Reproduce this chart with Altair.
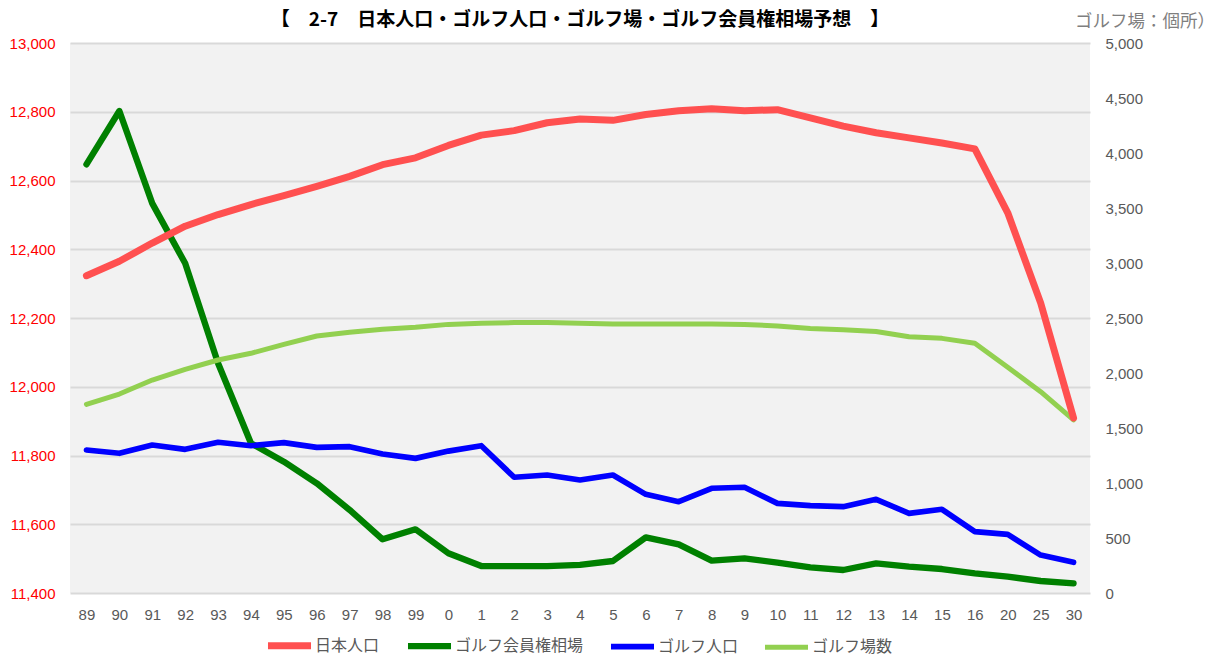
import altair as alt
import pandas as pd

categories = ['89', '90', '91', '92', '93', '94', '95', '96', '97', '98', '99',
              '0', '1', '2', '3', '4', '5', '6', '7', '8', '9', '10', '11', '12',
              '13', '14', '15', '16', '20', '25', '30']

population = [12323, 12365, 12418, 12467, 12501, 12530, 12556, 12583, 12612, 12646, 12666,
              12702, 12732, 12745, 12768, 12779, 12775, 12792, 12803, 12809, 12803, 12806,
              12782, 12758, 12739, 12724, 12709, 12692, 12506, 12244, 11909]

membership = [3897, 4382, 3542, 2997, 2088, 1361, 1194, 997, 755, 488, 579,
              361, 245, 245, 245, 255, 291, 506, 442, 294, 315, 276,
              233, 209, 270, 239, 218, 179, 148, 109, 88]

golfers = [1300, 1270, 1345, 1306, 1370, 1339, 1367, 1324, 1330, 1264, 1224,
           1290, 1339, 1052, 1073, 1027, 1073, 897, 830, 952, 961, 815,
           794, 785, 852, 724, 761, 558, 533, 345, 279]

courses = [1715, 1809, 1936, 2033, 2118, 2179, 2261, 2336, 2370, 2397, 2415,
           2442, 2452, 2458, 2458, 2452, 2445, 2445, 2445, 2445, 2442, 2427,
           2405, 2394, 2378, 2330, 2315, 2270, 2052, 1830, 1573]

series_names = ['日本人口', 'ゴルフ会員権相場', 'ゴルフ人口', 'ゴルフ場数']
series_colors = ['#FF5050', '#008000', '#0000FF', '#92D050']
series_widths = [7, 5, 6.5, 4]

title_text = '【　2-7　日本人口・ゴルフ人口・ゴルフ場・ゴルフ会員権相場予想　】'
unit_text = 'ゴルフ場：個所）'

left_ticks = [11400, 11600, 11800, 12000, 12200, 12400, 12600, 12800, 13000]
right_ticks = [0, 500, 1000, 1500, 2000, 2500, 3000, 3500, 4000, 4500, 5000]

rows = []
for name, vals in zip(series_names, [population, membership, golfers, courses]):
    for i, (c, v) in enumerate(zip(categories, vals)):
        rows.append({'cat': c, 'series': name, 'sw': name, 'value': v, 'idx': i})
df = pd.DataFrame(rows)

color = alt.Color('series:N',
                  scale=alt.Scale(domain=series_names, range=series_colors),
                  legend=alt.Legend(title=None, orient='none', direction='horizontal',
                                    columns=4, legendX=194, legendY=577,
                                    symbolType='stroke', symbolSize=1850,
                                    symbolStrokeWidth=7, labelOffset=0,
                                    columnPadding=15, padding=0,
                                    labelFont='Noto Sans CJK JP', labelFontSize=16,
                                    labelColor='#595959'))

xenc = alt.X('cat:N', sort=categories,
             scale=alt.Scale(type='point', padding=0.5),
             axis=alt.Axis(title=None, labelAngle=0, domain=False, ticks=False,
                           tickSize=0, grid=False, labelPadding=14,
                           labelFont='Liberation Sans', labelFontSize=15,
                           labelColor='#595959'))

base = alt.Chart(df)

right_layer = base.transform_filter(
    alt.FieldOneOfPredicate(field='series', oneOf=series_names[1:])
).mark_line(strokeCap='round', strokeJoin='round').encode(
    x=xenc,
    y=alt.Y('value:Q', scale=alt.Scale(domain=[0, 5000], nice=False, zero=True),
            axis=alt.Axis(title=None, orient='right', values=right_ticks, format=',.0f',
                          domain=False, ticks=False, tickSize=0, grid=False,
                          labelPadding=15, labelFont='Liberation Sans',
                          labelFontSize=15, labelColor='#595959')),
    color=color,
    strokeWidth=alt.StrokeWidth('sw:N',
                                scale=alt.Scale(domain=series_names, range=series_widths),
                                legend=None),
    order='idx:Q',
)

left_layer = base.transform_filter(
    alt.FieldEqualPredicate(field='series', equal=series_names[0])
).mark_line(strokeCap='round', strokeJoin='round', strokeWidth=7).encode(
    x=xenc,
    y=alt.Y('value:Q', scale=alt.Scale(domain=[11400, 13000], nice=False, zero=False),
            axis=alt.Axis(title=None, orient='left', values=left_ticks, format=',.0f',
                          domain=False, ticks=False, tickSize=0, grid=True,
                          gridColor='#D9D9D9', gridWidth=2,
                          labelPadding=15, labelFont='Liberation Sans',
                          labelFontSize=15, labelColor='#FF0000')),
    color=color,
    order='idx:Q',
)

title_layer = alt.Chart(pd.DataFrame({'t': [title_text]})).mark_text(
    align='center', baseline='middle', font='Noto Sans CJK JP',
    fontSize=19, fontWeight='bold', color='#000000'
).encode(text='t:N', x=alt.value(510), y=alt.value(-23))

unit_layer = alt.Chart(pd.DataFrame({'t': [unit_text]})).mark_text(
    align='left', baseline='middle', font='Noto Sans CJK JP',
    fontSize=17.5, color='#7F7F7F'
).encode(text='t:N', x=alt.value(1005), y=alt.value(-21))

chart = alt.layer(right_layer, left_layer, title_layer, unit_layer).resolve_scale(
    y='independent'
).properties(
    width=1020, height=550,
    autosize=alt.AutoSizeParams(type='none'),
    padding={'left': 62, 'top': 35, 'right': 124, 'bottom': 62},
    background='#FFFFFF',
).configure_view(
    fill='#F2F2F2', stroke=None
)

chart.save('out.html', embed_options={'renderer': 'svg', 'actions': False})
